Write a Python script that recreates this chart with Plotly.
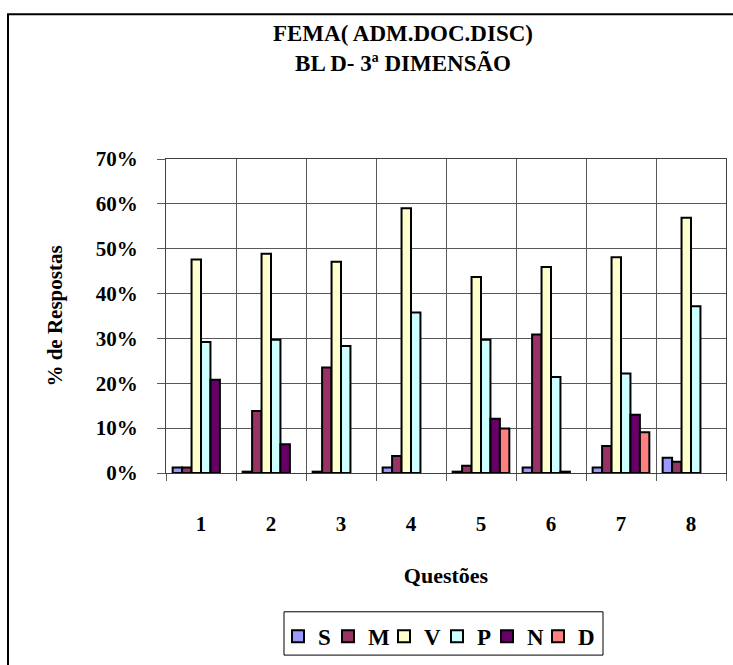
import plotly.graph_objects as go

categories = ["1", "2", "3", "4", "5", "6", "7", "8"]
series_names = ["S", "M", "V", "P", "N", "D"]
S = [1.2, 0.3, 0.3, 1.2, 0.3, 1.2, 1.2, 3.4]
M = [1.2, 13.8, 23.5, 3.8, 1.6, 30.9, 6.0, 2.5]
V = [47.6, 48.9, 47.1, 59.0, 43.7, 45.9, 48.1, 56.9]
P = [29.2, 29.7, 28.3, 35.8, 29.7, 21.4, 22.2, 37.2]
N = [20.8, 6.4, None, None, 12.1, 0.3, 13.0, None]
D = [None, None, None, None, 9.9, None, 9.1, None]
colors = ["#9999FF", "#993366", "#FFFFCC", "#CCFFFF", "#660066", "#FF8080"]
y_ticks = [0, 10, 20, 30, 40, 50, 60, 70]

FONT = "Liberation Serif, Times New Roman, serif"
W, H = 733, 665
L, R, T, B = 166, 726, 159, 478

def px_x(px):
    return (px - L) / (R - L)

def px_y(py):
    return (B - py) / (B - T)

# legend entry left edges (px), one small legend per series
legend_left_px = [278, 328, 384, 437, 487, 538]
legend_ids = ["legend"] + [f"legend{i}" for i in range(2, 7)]

fig = go.Figure()
for name, vals, col, lid in zip(series_names, [S, M, V, P, N, D], colors, legend_ids):
    fig.add_trace(go.Bar(
        x=categories, y=vals, name=f"<b>{name}</b>",
        marker=dict(color=col, line=dict(color="black", width=2)),
        legend=lid,
    ))

layout_legends = {}
for lid, lx in zip(legend_ids, legend_left_px):
    layout_legends[lid] = dict(
        orientation="h",
        x=px_x(lx), xanchor="left",
        y=px_y(644), yanchor="middle",
        borderwidth=0, bgcolor="rgba(0,0,0,0)",
        font=dict(family=FONT, size=23, color="black"),
        itemwidth=30,
    )

fig.update_layout(
    width=W, height=H,
    margin=dict(l=L, r=W - R, t=T, b=H - B, pad=0),
    paper_bgcolor="white", plot_bgcolor="white",
    barmode="group", bargap=0.19, bargroupgap=0,
    font=dict(family=FONT, color="black"),
    title=dict(
        text="<b>FEMA( ADM.DOC.DISC)</b><br><b>BL D- 3ª DIMENSÃO</b>",
        x=403 / W, xanchor="center", xref="container",
        y=1 - 41 / H, yanchor="middle", yref="container",
        font=dict(family=FONT, size=23, color="black"),
    ),
    xaxis=dict(
        type="category", tickson="boundaries",
        tickvals=categories, ticktext=[f"<b>{c}</b>" for c in categories],
        showgrid=True, gridcolor="#595959", gridwidth=1,
        showline=True, linecolor="#404040", linewidth=1, mirror=True,
        ticks="outside", ticklen=7, tickcolor="#595959",
        tickfont=dict(family=FONT, size=21, color="black"),
        ticklabelstandoff=32,
        title=dict(text="<b>Questões</b>", standoff=32,
                   font=dict(family=FONT, size=22, color="black")),
    ),
    yaxis=dict(
        range=[0, 70], tickvals=y_ticks,
        ticktext=[f"<b>{v}%</b>" for v in y_ticks],
        showgrid=True, gridcolor="#595959", gridwidth=1,
        zeroline=False,
        showline=True, linecolor="#404040", linewidth=1, mirror=True,
        ticks="outside", ticklen=8, tickcolor="#595959",
        tickfont=dict(family=FONT, size=21, color="black"),
        ticklabelstandoff=15,
        title=dict(text="<b>% de Respostas</b>", standoff=27,
                   font=dict(family=FONT, size=21, color="black")),
    ),
    showlegend=True,
    **layout_legends,
)

# legend frame
fig.add_shape(
    type="rect", xref="paper", yref="paper",
    x0=px_x(284), x1=px_x(603), y0=px_y(663), y1=px_y(619),
    line=dict(color="black", width=1), fillcolor="white",
    layer="below",
)

# outer chart border (extends beyond the visible frame on right and bottom)
fig.add_shape(
    type="rect", xref="paper", yref="paper",
    x0=px_x(8), x1=px_x(760), y0=px_y(690), y1=px_y(12),
    line=dict(color="black", width=2), fillcolor="rgba(0,0,0,0)",
    layer="below",
)

fig.write_html("out.html")
